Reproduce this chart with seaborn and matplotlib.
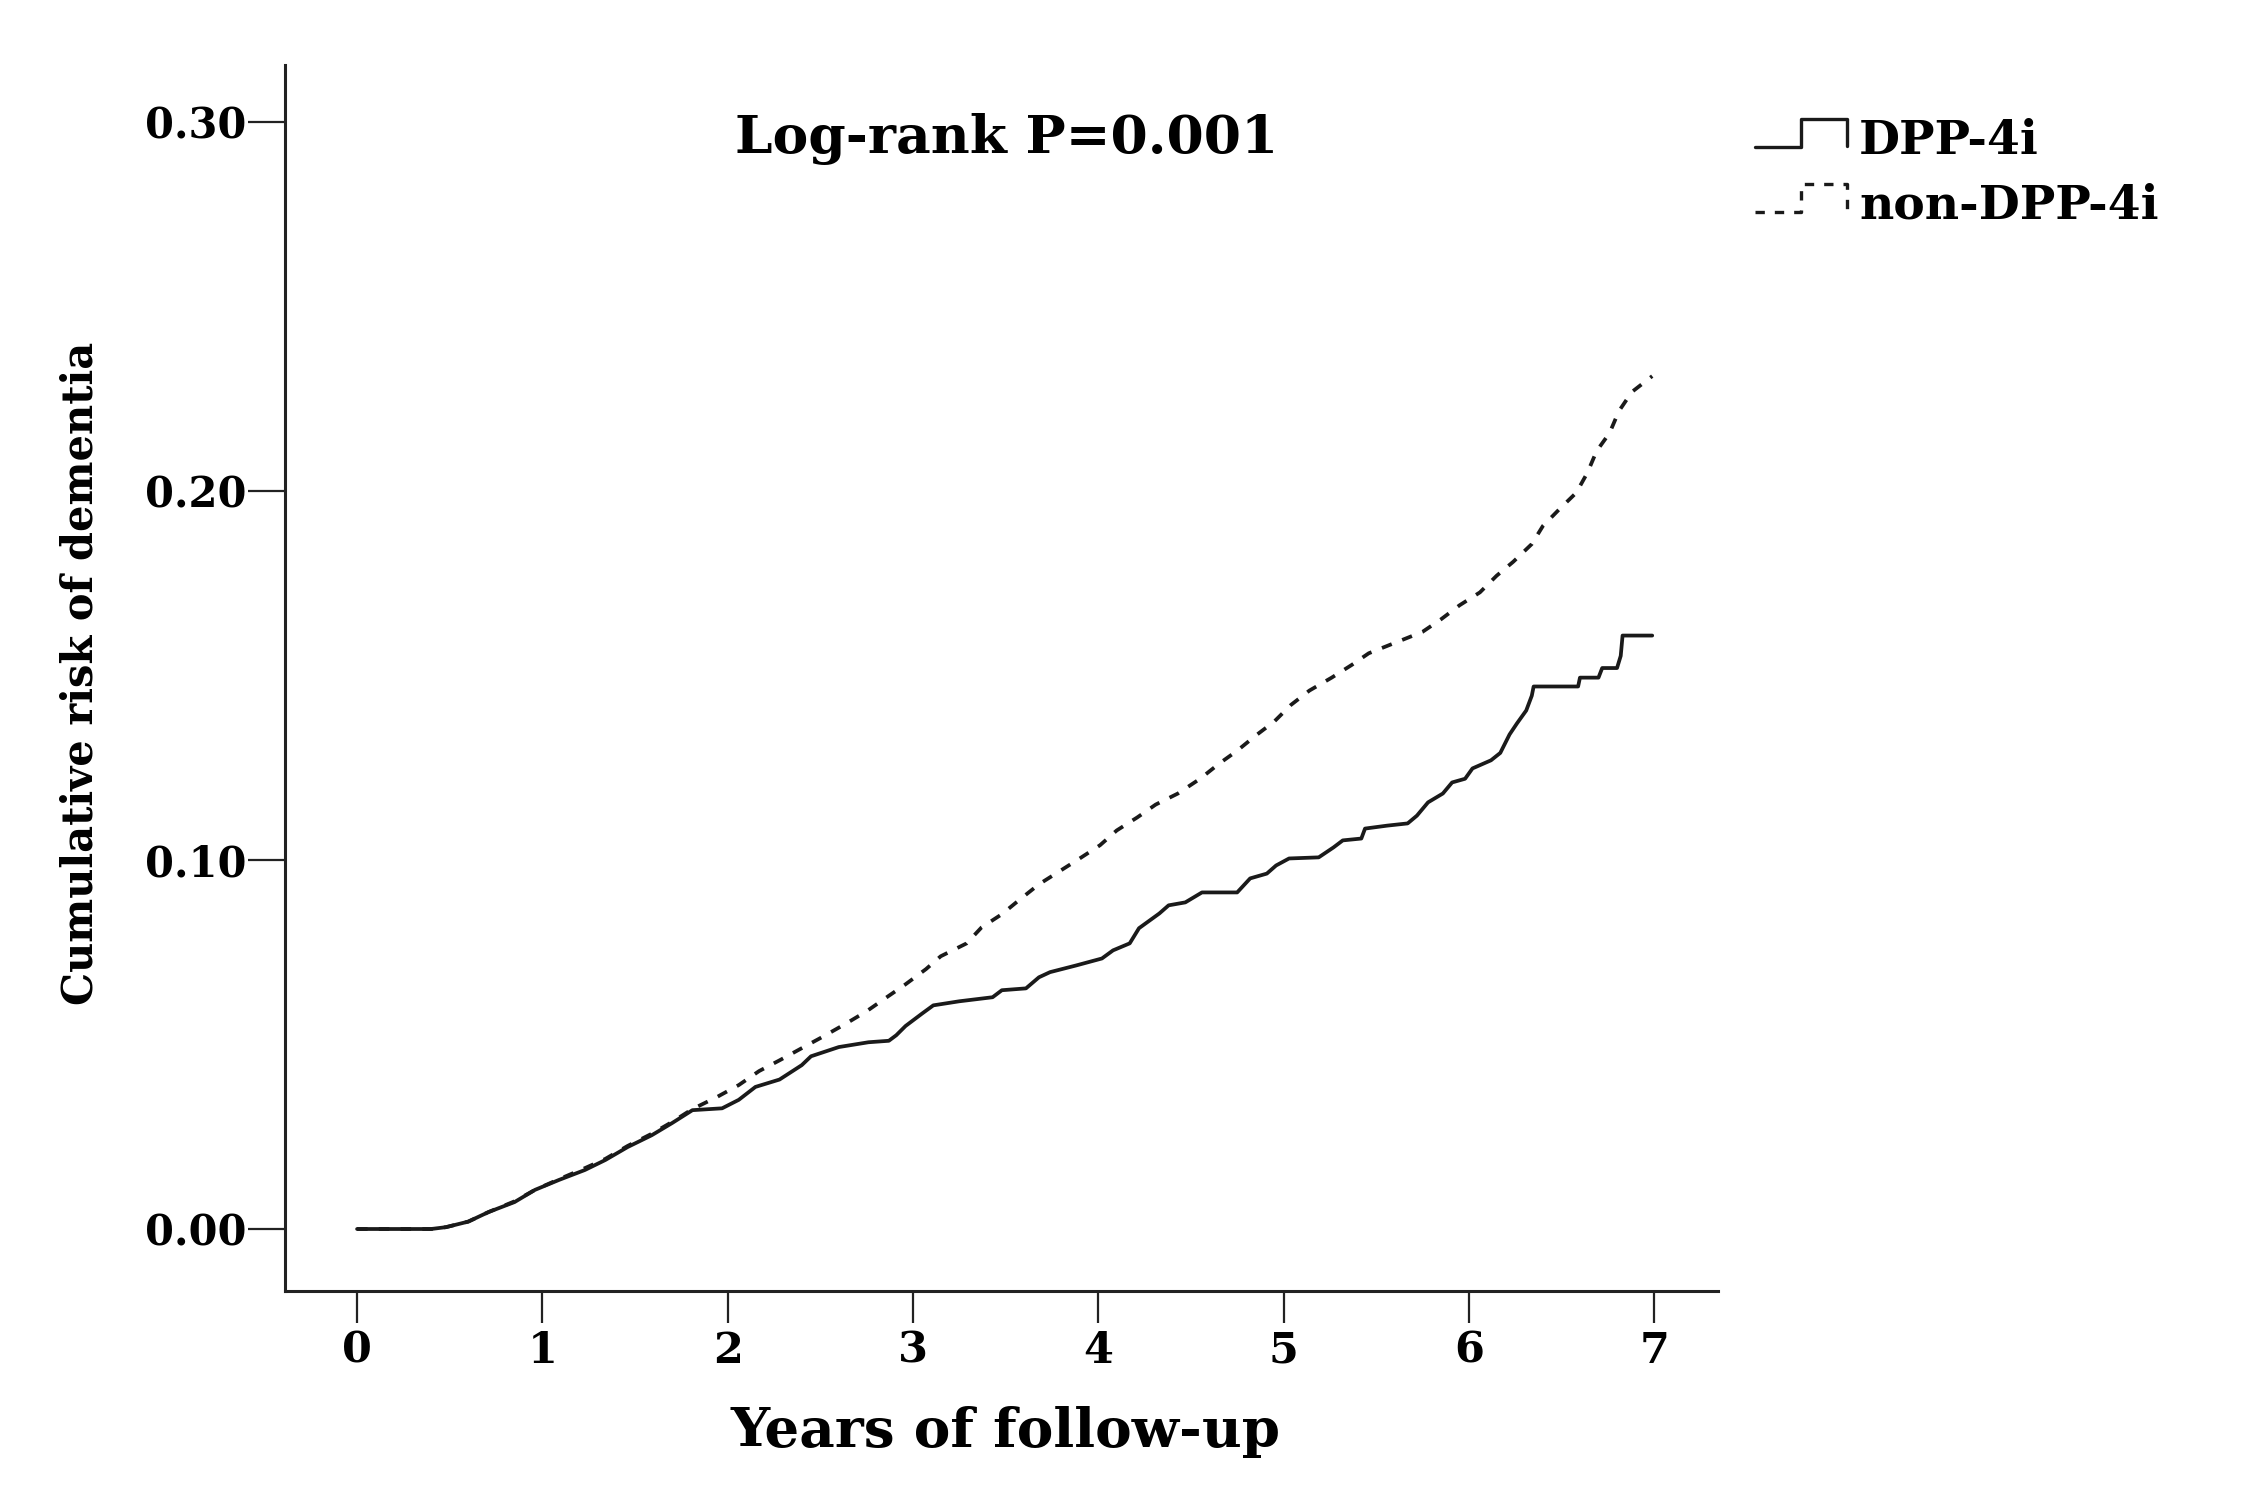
import numpy as np
import pandas as pd
import matplotlib
matplotlib.use("Agg")
import matplotlib.pyplot as plt
from matplotlib.lines import Line2D
from matplotlib.legend_handler import HandlerBase
import seaborn as sns

# ---- data ----
dpp_years = [0.00, 0.40, 0.48, 0.60, 0.71, 0.85, 0.96, 1.09, 1.23, 1.34, 1.46, 1.59, 1.70, 1.81,
             1.97, 2.06, 2.15, 2.28, 2.40, 2.45, 2.60, 2.76, 2.87, 2.91, 2.96, 3.05, 3.11, 3.25,
             3.43, 3.48, 3.61, 3.68, 3.74, 3.88, 4.02, 4.08, 4.17, 4.22, 4.33, 4.38, 4.47, 4.56,
             4.75, 4.82, 4.91, 4.96, 5.03, 5.19, 5.27, 5.32, 5.42, 5.44, 5.56, 5.67, 5.72, 5.78,
             5.86, 5.91, 5.98, 6.02, 6.12, 6.17, 6.22, 6.26, 6.31, 6.34, 6.35, 6.59, 6.60, 6.70,
             6.72, 6.80, 6.82, 6.83, 6.99]
dpp_risk = [0.000, 0.000, 0.0005, 0.002, 0.0046, 0.0073, 0.0106, 0.0133, 0.016, 0.0187, 0.0222,
            0.0254, 0.0287, 0.0322, 0.0327, 0.035, 0.0385, 0.0405, 0.0444, 0.0468, 0.0493, 0.0506,
            0.051, 0.0525, 0.055, 0.0584, 0.0606, 0.0617, 0.0628, 0.0647, 0.0652, 0.0682, 0.0696,
            0.0714, 0.0733, 0.0755, 0.0774, 0.0815, 0.0855, 0.0877, 0.0885, 0.0912, 0.0912, 0.095,
            0.0963, 0.0985, 0.1004, 0.1007, 0.1034, 0.1053, 0.1058, 0.1085, 0.1093, 0.1099, 0.112,
            0.1156, 0.118, 0.121, 0.122, 0.1248, 0.127, 0.129, 0.134, 0.137, 0.1405, 0.1445, 0.147,
            0.147, 0.1494, 0.1494, 0.152, 0.152, 0.1553, 0.1608, 0.1608]

non_years = [0.00, 0.40, 0.48, 0.60, 0.71, 0.85, 0.96, 1.09, 1.23, 1.34, 1.46, 1.59, 1.70, 1.81,
             1.94, 2.06, 2.17, 2.28, 2.40, 2.51, 2.64, 2.75, 2.85, 2.96, 3.07, 3.15, 3.29, 3.37,
             3.48, 3.57, 3.68, 3.79, 3.90, 4.01, 4.10, 4.21, 4.31, 4.43, 4.55, 4.65, 4.75, 4.85,
             4.95, 5.04, 5.14, 5.26, 5.37, 5.46, 5.61, 5.75, 5.85, 5.95, 6.06, 6.15, 6.24, 6.34,
             6.40, 6.49, 6.58, 6.64, 6.69, 6.76, 6.81, 6.88, 6.99]
non_risk = [0.000, 0.000, 0.0005, 0.002, 0.0046, 0.0075, 0.0106, 0.0135, 0.0165, 0.019, 0.0225,
            0.0258, 0.029, 0.0325, 0.0357, 0.039, 0.0428, 0.0457, 0.049, 0.052, 0.0557, 0.059,
            0.0625, 0.0663, 0.0704, 0.0739, 0.0774, 0.0817, 0.0853, 0.089, 0.0934, 0.0969, 0.1004,
            0.104, 0.108, 0.1115, 0.115, 0.118, 0.122, 0.126, 0.1296, 0.1337, 0.1375, 0.142,
            0.1459, 0.1494, 0.1529, 0.156, 0.159, 0.1618, 0.1652, 0.169, 0.1725, 0.177, 0.1808,
            0.1856, 0.1905, 0.1951, 0.1995, 0.2049, 0.2108, 0.2157, 0.2216, 0.2268, 0.2311]

groups = ["DPP-4i", "non-DPP-4i"]
x_ticks = [0, 1, 2, 3, 4, 5, 6, 7]
y_ticks = [0.00, 0.10, 0.20, 0.30]
y_tick_labels = ["0.00", "0.10", "0.20", "0.30"]
title_text = "Log-rank P=0.001"
x_label = "Years of follow-up"
y_label = "Cumulative risk of dementia"

df = pd.concat([
    pd.DataFrame({"years": dpp_years, "risk": dpp_risk, "group": groups[0]}),
    pd.DataFrame({"years": non_years, "risk": non_risk, "group": groups[1]}),
], ignore_index=True)

# ---- style ----
sns.set_style("ticks")
plt.rcParams["font.family"] = ["DejaVu Serif"]
plt.rcParams["font.weight"] = "bold"
plt.rcParams["axes.labelweight"] = "bold"
plt.rcParams["text.color"] = "black"
plt.rcParams["axes.labelcolor"] = "black"

W, H = 2243, 1502
fig = plt.figure(figsize=(W / 100, H / 100), dpi=100)
ax_l, ax_r, ax_t, ax_b = 285, 1718, 65, 1291
ax = fig.add_axes([ax_l / W, 1 - ax_b / H, (ax_r - ax_l) / W, (ax_b - ax_t) / H])

line_col = "#1a1a1a"
line_w = 2.7
dash_spec = {groups[0]: "", groups[1]: (2.8, 3.0)}
sns.lineplot(data=df, x="years", y="risk", style="group", style_order=groups,
             dashes=dash_spec, color=line_col,
             linewidth=line_w, estimator=None, sort=False, ax=ax, legend=False)

ax.set_xlim(-0.389, 7.345)
ax.set_ylim(-0.0168, 0.3154)
ax.set_xticks(x_ticks)
ax.set_xticklabels([str(t) for t in x_ticks])
ax.set_yticks(y_ticks)
ax.set_yticklabels(y_tick_labels)
sns.despine(ax=ax)
for s in ["left", "bottom"]:
    ax.spines[s].set_linewidth(2.2)
    ax.spines[s].set_color("#222222")
ax.tick_params(axis="y", direction="out", length=27, width=1.6, pad=1,
               labelsize=30, colors="#222222", labelcolor="black")
ax.tick_params(axis="x", direction="out", length=23, width=1.6, pad=5,
               labelsize=31, colors="#222222", labelcolor="black")
for lab in ax.get_xticklabels() + ax.get_yticklabels():
    lab.set_fontweight("bold")

ax.set_xlabel(x_label, fontsize=39.5, fontweight="bold", color="black")
ax.set_ylabel(y_label, fontsize=30, fontweight="bold", color="black")
ax.xaxis.set_label_coords(0.503, -0.094)
ax.yaxis.set_label_coords(-0.128, 0.504)

ax.text(0.5038, 0.9282, title_text, transform=ax.transAxes, ha="center", va="baseline",
        fontsize=38.5, fontweight="bold", color="black")


class StepHandler(HandlerBase):
    """Kaplan-Meier style step glyph for the legend."""
    def create_artists(self, legend, orig_handle, xdescent, ydescent, width, height,
                       fontsize, trans):
        xs = np.array([0.0, 0.5, 0.5, 1.0, 1.0]) * width - xdescent
        ys = np.array([0.2, 0.2, 1.05, 1.05, 0.25]) * height - ydescent
        ln = Line2D(xs, ys, color=orig_handle.get_color(),
                    linewidth=orig_handle.get_linewidth(),
                    linestyle=orig_handle.get_linestyle())
        if orig_handle.get_gid() == "dashed":
            ln.set_dashes(dash_spec[groups[1]])
        ln.set_clip_on(False)
        ln.set_transform(trans)
        return [ln]


handles = []
for g in groups:
    h = Line2D([], [], color=line_col, linewidth=2.4,
               linestyle="-" if dash_spec[g] == "" else "--")
    if dash_spec[g] != "":
        h.set_gid("dashed")
    handles.append(h)

leg = fig.legend(handles, groups, loc="upper left", bbox_to_anchor=(1755 / W, 1 - 118 / H),
                 frameon=False, handlelength=1.95, handletextpad=0.25,
                 labelspacing=0.40, borderpad=0, borderaxespad=0,
                 handler_map={Line2D: StepHandler()},
                 prop={"weight": "bold", "size": 34, "family": "DejaVu Serif"})
for t in leg.get_texts():
    t.set_color("black")

fig.savefig("out.png", dpi=100)
